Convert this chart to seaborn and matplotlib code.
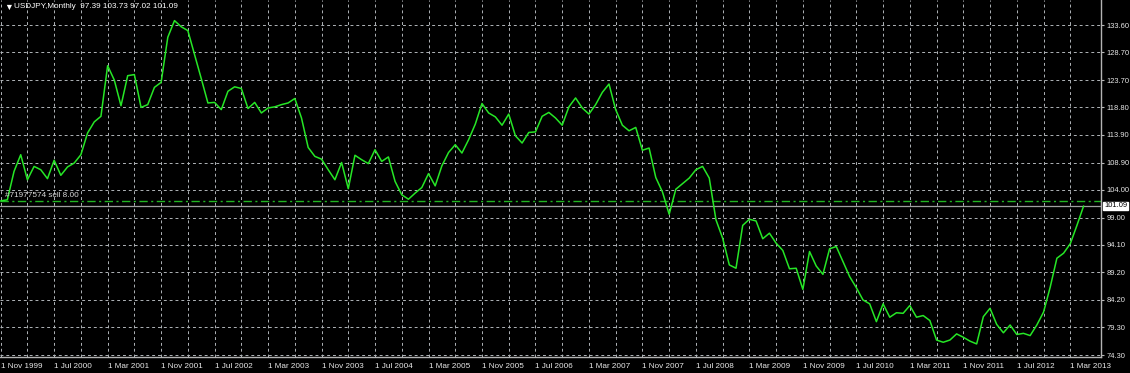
import numpy as np
import pandas as pd
import matplotlib
matplotlib.use("Agg")
import matplotlib.pyplot as plt
import seaborn as sns
from matplotlib import font_manager

# USDJPY monthly closes, Nov 1999 .. May 2013
close_1999 = [102.0, 102.2]
close_2000 = [107.3, 110.3, 105.8, 108.2, 107.6, 106.0, 109.3, 106.6, 108.1, 108.8, 110.3, 114.2]
close_2001 = [116.2, 117.2, 126.3, 123.7, 119.1, 124.5, 124.7, 118.8, 119.3, 122.4, 123.3, 131.4]
close_2002 = [134.4, 133.3, 132.6, 128.3, 124.0, 119.6, 119.7, 118.4, 121.7, 122.5, 122.2, 118.6]
close_2003 = [119.7, 117.8, 118.7, 118.9, 119.3, 119.6, 120.4, 116.9, 111.6, 110.0, 109.5, 107.6]
close_2004 = [105.8, 108.9, 104.2, 110.2, 109.4, 108.7, 111.2, 109.1, 109.9, 105.5, 103.1, 102.3]
close_2005 = [103.4, 104.4, 106.9, 104.7, 108.3, 110.7, 112.1, 110.6, 113.0, 115.8, 119.5, 117.8]
close_2006 = [117.1, 115.6, 117.6, 113.7, 112.4, 114.3, 114.4, 117.2, 117.9, 116.9, 115.6, 118.9]
close_2007 = [120.5, 118.7, 117.6, 119.3, 121.5, 123.0, 118.4, 115.6, 114.6, 115.2, 111.1, 111.5]
close_2008 = [106.2, 103.6, 99.6, 104.1, 105.1, 106.1, 107.6, 108.2, 106.1, 98.6, 95.3, 90.5]
close_2009 = [89.9, 97.6, 98.7, 98.4, 95.2, 96.2, 94.4, 93.1, 89.8, 89.9, 86.1, 92.9]
close_2010 = [90.3, 88.8, 93.4, 93.8, 91.1, 88.4, 86.4, 84.2, 83.5, 80.3, 83.5, 81.1]
close_2011 = [81.9, 81.8, 83.2, 81.1, 81.4, 80.5, 77.0, 76.6, 77.0, 78.1, 77.5, 76.8]
close_2012 = [76.3, 81.2, 82.7, 79.8, 78.3, 79.7, 78.0, 78.2, 77.8, 79.7, 82.0, 86.5]
close_2013 = [91.7, 92.6, 94.3, 97.6, 101.09]

x_tick_labels = ["1 Nov 1999", "1 Jul 2000", "1 Mar 2001", "1 Nov 2001", "1 Jul 2002",
                 "1 Mar 2003", "1 Nov 2003", "1 Jul 2004", "1 Mar 2005", "1 Nov 2005",
                 "1 Jul 2006", "1 Mar 2007", "1 Nov 2007", "1 Jul 2008", "1 Mar 2009",
                 "1 Nov 2009", "1 Jul 2010", "1 Mar 2011", "1 Nov 2011", "1 Jul 2012",
                 "1 Mar 2013"]
y_ticks = [74.30, 79.30, 84.20, 89.20, 94.10, 99.00, 104.00, 108.90, 113.90,
           118.80, 123.70, 128.70, 133.60]

title_text = "USDJPY,Monthly  97.39 103.73 97.02 101.09"
order_text = "#71977574 sell 8.00"
order_price = 102.0
last_price = 101.09

closes = (close_1999 + close_2000 + close_2001 + close_2002 + close_2003 + close_2004 +
          close_2005 + close_2006 + close_2007 + close_2008 + close_2009 + close_2010 +
          close_2011 + close_2012 + close_2013)
df = pd.DataFrame({"bar": np.arange(len(closes)), "close": closes})

sns.set_theme(style="dark")
available = {f.name for f in font_manager.fontManager.ttflist}
if "Liberation Sans Narrow" in available:
    fam = ["Liberation Sans Narrow", "DejaVu Sans"]
    fs = 6.8
    fsy = 6.2
else:
    fam = ["Liberation Sans", "DejaVu Sans"]
    fs = 5.9
    fsy = 5.4
plt.rcParams["font.family"] = fam

W, H = 1130, 373
fig = plt.figure(figsize=(W / 100, H / 100), dpi=100, facecolor="black")
ax = fig.add_axes([0, 16 / H, 1101 / W, 357 / H])
ax.set_facecolor("black")

grid_col = "#b0b4b8"
ax.axhline(order_price, color="#22b422", lw=1.0, linestyle=(0, (6, 2.5, 1.5, 2.5)), zorder=2)
ax.axhline(last_price, color="#a0a0a0", lw=0.9, zorder=2)

sns.lineplot(data=df, x="bar", y="close", ax=ax, color="#26e626", lw=1.1, zorder=3)

ax.set_xlim(-0.1, 164.6)
ax.set_ylim(73.95, 138.1)

major = np.arange(0, 8 * len(x_tick_labels), 8)
ax.set_xticks(major)
ax.set_xticklabels(x_tick_labels, ha="left")
ax.set_xticks(np.arange(4, 164, 8), minor=True)
ax.yaxis.tick_right()
ax.set_yticks(y_ticks)
ax.set_yticklabels([f"{v:.2f}" for v in y_ticks])

ax.tick_params(axis="x", which="major", direction="out", length=3, width=0.8,
               color="#b8b8b8", labelcolor="#e8e8e8", labelsize=fs, pad=1)
ax.tick_params(axis="x", which="minor", length=0)
ax.tick_params(axis="y", which="major", direction="out", length=2.5, width=0.8,
               color="#b8b8b8", labelcolor="#e8e8e8", labelsize=fsy, pad=1.2,
               right=True, left=False, labelright=True, labelleft=False)

ax.grid(True, axis="both", which="major", color=grid_col, lw=0.7, linestyle=(0, (3, 3)))
ax.grid(True, axis="x", which="minor", color=grid_col, lw=0.7, linestyle=(0, (3, 3)))
ax.set_axisbelow(True)

for s in ["top", "left"]:
    ax.spines[s].set_visible(False)
for s in ["right", "bottom"]:
    ax.spines[s].set_visible(True)
    ax.spines[s].set_color("#b4b4b4")
    ax.spines[s].set_linewidth(1.0)

ax.set_xlabel("")
ax.set_ylabel("")

ax.annotate(order_text, xy=(0, order_price), xycoords=("axes fraction", "data"),
            xytext=(5, 1.5), textcoords="offset pixels", va="bottom", ha="left",
            color="#d8d8d8", fontsize=fs)
ax.annotate(f"{last_price:.2f}", xy=(1.0, last_price), xycoords=("axes fraction", "data"),
            xytext=(3, 0), textcoords="offset pixels", va="center", ha="left",
            color="black", fontsize=fsy, annotation_clip=False,
            bbox=dict(boxstyle="square,pad=0.12", fc="white", ec="white"))

fig.text(4 / W, 1 - 7 / H, "\u25bc", color="white", fontsize=fs + 0.5, va="center", ha="left")
fig.text(14 / W, 1 - 7 / H, title_text, color="white", fontsize=fs, va="center", ha="left")

fig.savefig("out.png", dpi=100, facecolor="black")
